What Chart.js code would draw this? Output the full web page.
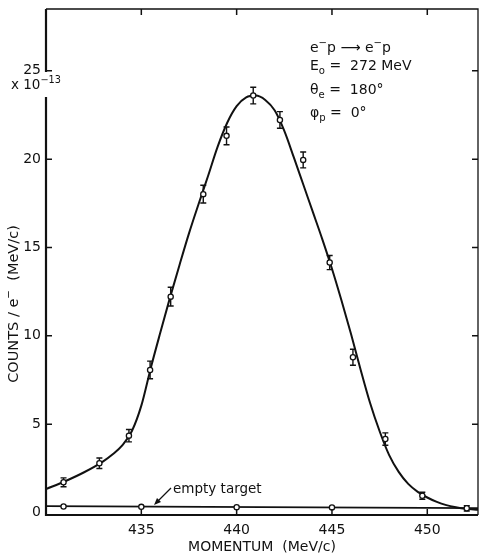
<!DOCTYPE html>
<html>
<head>
<meta charset="utf-8">
<script src="https://cdn.jsdelivr.net/npm/chart.js@4.4.0/dist/chart.umd.min.js"></script>
<style>
  html, body { margin: 0; padding: 0; background: #fff }
  #wrap { width: 480px; height: 556px }
</style>
</head>
<body>
<div id="wrap"><canvas id="chart"></canvas></div>
<script>
// measured points (x 10^-13 counts / e- (MeV/c))
const MOMENTUM = [430.92, 432.8, 434.35, 435.46, 436.54, 438.25, 439.47, 440.87, 442.27, 443.49, 444.88, 446.1, 447.8, 449.74, 452.07]
const COUNTS   = [1.71, 2.79, 4.35, 8.07, 12.22, 18.02, 21.32, 23.6, 22.22, 19.96, 14.15, 8.79, 4.16, 0.95, 0.24]
const ERRORS   = [0.25, 0.3, 0.35, 0.5, 0.53, 0.5, 0.5, 0.47, 0.47, 0.45, 0.4, 0.45, 0.35, 0.2, 0.15]

// hand-drawn fit curve
const FIT_X = [430, 431, 432, 433, 433.5, 434, 434.5, 435, 435.5, 436, 436.5, 437, 437.5, 438, 438.5,
               439, 439.5, 440, 440.5, 441, 441.5, 442, 442.5, 443, 443.5, 444, 444.5, 445, 445.5,
               446, 446.5, 447, 447.5, 448, 448.5, 449, 449.5, 450, 450.5, 451, 451.5, 452, 452.66]
const FIT_Y = [1.33, 1.77, 2.28, 2.9, 3.3, 3.8, 4.6, 6.05, 8.2, 10.2, 12.15, 14.0, 15.8, 17.45, 19.05,
               20.7, 22.05, 23.0, 23.5, 23.6, 23.35, 22.75, 21.6, 20.1, 18.55, 17.0, 15.45, 13.8, 12.0,
               10.1, 8.1, 6.2, 4.6, 3.25, 2.3, 1.62, 1.17, 0.85, 0.6, 0.42, 0.3, 0.21, 0.15]

// empty target run
const EMPTY_X = [430.92, 435, 440, 445]
const EMPTY_Y = [0.34, 0.32, 0.3, 0.29]
const EMPTY_LINE_X = [430, 452.66]
const EMPTY_LINE_Y = [0.36, 0.25]

const X_TICKS = [435, 440, 445, 450]
const Y_TICKS = [0, 5, 10, 15, 20, 25]

const FONT = 'DejaVu Sans'

function pts(xs, ys) {
  return xs.map((x, i) => ({ x, y: ys[i] }))
}

// draw text made of runs; sub / sup runs are smaller and shifted
function drawRuns(ctx, runs, x, y, size) {
  ctx.textAlign = 'left'
  ctx.textBaseline = 'alphabetic'
  let cx = x
  runs.forEach(r => {
    const s  = r.sub || r.sup ? size * 0.72 : size
    const dy = r.sub ? size * 0.3 : r.sup ? -size * 0.42 : 0
    ctx.font = `${s}px "${FONT}"`
    ctx.fillText(r.t, cx, y + dy)
    cx += ctx.measureText(r.t).width
  })
  return cx - x
}

function runsWidth(ctx, runs, size) {
  return runs.reduce((w, r) => {
    const s = r.sub || r.sup ? size * 0.72 : size
    ctx.font = `${s}px "${FONT}"`
    return w + ctx.measureText(r.t).width
  }, 0)
}

const errorBars = {
  id: 'errorBars',
  beforeDatasetsDraw(chart) {
    const { ctx, scales: { x, y } } = chart
    ctx.save()
    ctx.strokeStyle = '#111'
    ctx.lineWidth = 1.4
    MOMENTUM.forEach((m, i) => {
      const px = x.getPixelForValue(m)
      const top = y.getPixelForValue(COUNTS[i] + ERRORS[i])
      const bot = y.getPixelForValue(COUNTS[i] - ERRORS[i])
      ctx.beginPath()
      ctx.moveTo(px, top); ctx.lineTo(px, bot)
      ctx.moveTo(px - 3, top); ctx.lineTo(px + 3, top)
      ctx.moveTo(px - 3, bot); ctx.lineTo(px + 3, bot)
      ctx.stroke()
    })
    ctx.restore()
  }
}

const frame = {
  id: 'frame',
  afterDraw(chart) {
    const { ctx, chartArea: a, scales: { x, y } } = chart
    ctx.save()
    ctx.strokeStyle = '#111'
    ctx.fillStyle = '#111'

    // left axis, broken around the multiplier label
    ctx.lineWidth = 2.2
    ctx.beginPath()
    ctx.moveTo(a.left, a.top); ctx.lineTo(a.left, 72)
    ctx.moveTo(a.left, 97); ctx.lineTo(a.left, a.bottom)
    ctx.lineTo(a.right, a.bottom)
    ctx.stroke()

    ctx.lineWidth = 1.3
    ctx.beginPath()
    ctx.moveTo(a.left, a.top); ctx.lineTo(a.right, a.top); ctx.lineTo(a.right, a.bottom)
    ctx.stroke()

    // inward ticks
    ctx.lineWidth = 1.5
    ctx.beginPath()
    X_TICKS.forEach(v => {
      const px = x.getPixelForValue(v)
      ctx.moveTo(px, a.bottom); ctx.lineTo(px, a.bottom - 6)
      ctx.moveTo(px, a.top); ctx.lineTo(px, a.top + 6)
    })
    Y_TICKS.slice(1).forEach(v => {
      const py = y.getPixelForValue(v)
      ctx.moveTo(a.left, py); ctx.lineTo(a.left + 6, py)
      ctx.moveTo(a.right, py); ctx.lineTo(a.right - 6, py)
    })
    ctx.stroke()

    // multiplier
    drawRuns(ctx, [{ t: 'x 10' }, { t: '−13', sup: true }], 11, 89, 13.5)

    // y title
    const yRuns = [{ t: 'COUNTS / e' }, { t: '−', sup: true }, { t: '  (MeV/c)' }]
    ctx.save()
    ctx.translate(18, 304)
    ctx.rotate(-Math.PI / 2)
    const w = runsWidth(ctx, yRuns, 14.5)
    drawRuns(ctx, yRuns, -w / 2, 0, 14.5)
    ctx.restore()

    // reaction info
    drawRuns(ctx, [{ t: 'e' }, { t: '−', sup: true }, { t: 'p ⟶ e' }, { t: '−', sup: true }, { t: 'p' }], 310, 52, 14)
    drawRuns(ctx, [{ t: 'E' }, { t: 'o', sub: true }, { t: ' =  272 MeV' }], 310, 70, 14)
    drawRuns(ctx, [{ t: 'θ' }, { t: 'e', sub: true }, { t: ' =  180°' }], 310, 94, 14)
    drawRuns(ctx, [{ t: 'φ' }, { t: 'p', sub: true }, { t: ' =  0°' }], 310, 117, 14)

    // empty target label with arrow
    ctx.font = `13.5px "${FONT}"`
    ctx.textBaseline = 'alphabetic'
    ctx.fillText('empty target', 173, 493)
    ctx.lineWidth = 1.2
    ctx.beginPath()
    ctx.moveTo(171, 488); ctx.lineTo(156, 503)
    ctx.stroke()
    ctx.beginPath()
    ctx.moveTo(154, 505); ctx.lineTo(161, 502); ctx.lineTo(157, 498)
    ctx.closePath()
    ctx.fill()

    ctx.restore()
  }
}

new Chart(document.getElementById('chart'), {
  type: 'scatter',
  data: {
    datasets: [
      { data: pts(MOMENTUM, COUNTS), pointRadius: 2.6, pointBackgroundColor: '#fff',
        pointBorderColor: '#111', pointBorderWidth: 1.3, order: 0 },
      { data: pts(EMPTY_X, EMPTY_Y), pointRadius: 2.6, pointBackgroundColor: '#fff',
        pointBorderColor: '#111', pointBorderWidth: 1.3, order: 1 },
      { data: pts(FIT_X, FIT_Y), showLine: true, pointRadius: 0, borderColor: '#111',
        borderWidth: 2, cubicInterpolationMode: 'monotone', order: 2 },
      { data: pts(EMPTY_LINE_X, EMPTY_LINE_Y), showLine: true, pointRadius: 0, borderColor: '#111',
        borderWidth: 1.8, order: 3 }
    ]
  },
  options: {
    responsive: true,
    maintainAspectRatio: false,
    animation: false,
    layout: { autoPadding: false, padding: { top: 9, right: 2, left: 0, bottom: 0 } },
    plugins: { legend: { display: false }, tooltip: { enabled: false } },
    scales: {
      x: {
        type: 'linear', min: 430, max: 452.66,
        afterBuildTicks: s => { s.ticks = X_TICKS.map(v => ({ value: v })) },
        afterFit: s => { s.height = 41; s.paddingLeft = 0; s.paddingRight = 0 },
        grid: { display: false, drawTicks: false },
        border: { display: false },
        ticks: { color: '#111', padding: 7, maxRotation: 0, font: { family: FONT, size: 14 } },
        title: { display: true, text: 'MOMENTUM  (MeV/c)', color: '#111', padding: 0,
                 font: { family: FONT, size: 14 } }
      },
      y: {
        type: 'linear', min: -0.14, max: 28.5,
        afterBuildTicks: s => { s.ticks = Y_TICKS.map(v => ({ value: v })) },
        afterFit: s => { s.width = 46; s.paddingTop = 0; s.paddingBottom = 0 },
        grid: { display: false, drawTicks: false },
        border: { display: false },
        ticks: { color: '#111', padding: 5, font: { family: FONT, size: 14 } }
      }
    }
  },
  plugins: [errorBars, frame]
})
</script>
</body>
</html>
